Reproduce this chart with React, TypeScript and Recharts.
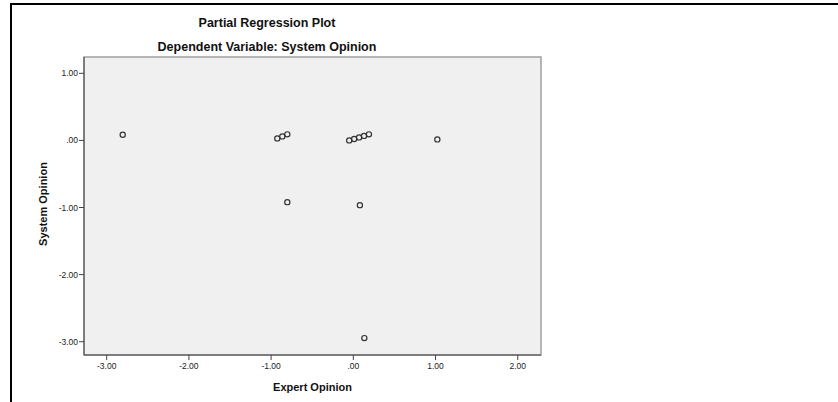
import React from "react";
import { ScatterChart, Scatter, XAxis, YAxis, ReferenceArea, Label } from "recharts";

// values
const expertOpinion = [
  -2.805, -0.925, -0.864, -0.803, -0.05, 0.01, 0.07, 0.13, 0.19, 1.022, -0.803, 0.08, 0.134,
];
const systemOpinion = [
  0.085, 0.03, 0.06, 0.09, 0.0, 0.022, 0.045, 0.067, 0.09, 0.015, -0.92, -0.965, -2.946,
];
const xTicks = [-3, -2, -1, 0, 1, 2];
const yTicks = [1, 0, -1, -2, -3];
const xDomain = [-3.276, 2.283];
const yDomain = [-3.198, 1.243];

const title = "Partial Regression Plot";
const subtitle = "Dependent Variable: System Opinion";
const xLabel = "Expert Opinion";
const yLabel = "System Opinion";

const FONT = "'Liberation Sans', Arial, sans-serif";

const points = expertOpinion.map((x, i) => ({ x, y: systemOpinion[i] }));

const fmt = (v: number) => (v === 0 ? ".00" : v.toFixed(2));

const HollowDot = (props: any) => (
  <circle cx={props.cx} cy={props.cy} r={2.6} fill="none" stroke="#333" strokeWidth={1.2} />
);

export default function App() {
  return (
    <div
      style={{
        position: "absolute",
        left: 0,
        top: 0,
        width: 838,
        height: 402,
        background: "#fff",
        fontFamily: FONT,
      }}
    >
      <div
        style={{
          position: "absolute",
          left: 10,
          top: 3,
          width: 828,
          height: 399,
          borderTop: "2px solid #000",
          borderLeft: "2px solid #000",
          boxSizing: "border-box",
        }}
      />
      <div
        style={{
          position: "absolute",
          left: 0,
          width: 534,
          top: 16,
          textAlign: "center",
          fontSize: 12.5,
          lineHeight: "15px",
          fontWeight: "bold",
          color: "#111",
        }}
      >
        {title}
      </div>
      <div
        style={{
          position: "absolute",
          left: 0,
          width: 534,
          top: 40,
          textAlign: "center",
          fontSize: 12.5,
          lineHeight: "15px",
          fontWeight: "bold",
          color: "#111",
        }}
      >
        {subtitle}
      </div>
      <div style={{ position: "absolute", left: 0, top: 0 }}>
        <ScatterChart
          width={838}
          height={402}
          margin={{ top: 57, left: 24, right: 297, bottom: 11 }}
        >
          <ReferenceArea
            x1={xDomain[0]}
            x2={xDomain[1]}
            y1={yDomain[0]}
            y2={yDomain[1]}
            fill="#f0f0f0"
            fillOpacity={1}
            stroke="#a0a0a0"
            strokeWidth={1.5}
          />
          <XAxis
            type="number"
            dataKey="x"
            domain={xDomain}
            ticks={xTicks}
            tickFormatter={fmt}
            height={36}
            tickSize={5}
            tickMargin={3}
            stroke="#444"
            tick={{ fontSize: 8.5, fill: "#222", fontFamily: FONT }}
            allowDataOverflow
          >
            <Label
              content={(p: any) => {
                const vb = p.viewBox;
                return (
                  <text
                    x={vb.x + vb.width / 2}
                    y={vb.y + 36}
                    textAnchor="middle"
                    fontSize={11}
                    fontWeight="bold"
                    fontFamily={FONT}
                    fill="#111"
                  >
                    {xLabel}
                  </text>
                );
              }}
            />
          </XAxis>
          <YAxis
            type="number"
            dataKey="y"
            domain={yDomain}
            ticks={yTicks}
            tickFormatter={fmt}
            width={60}
            tickSize={5}
            tickMargin={1}
            stroke="#444"
            tick={{ fontSize: 8.5, fill: "#222", fontFamily: FONT }}
            allowDataOverflow
          >
            <Label
              content={(p: any) => {
                const vb = p.viewBox;
                const cx = vb.x + 23;
                const cy = vb.y + vb.height / 2 - 2;
                return (
                  <text
                    x={cx}
                    y={cy}
                    transform={`rotate(-90, ${cx}, ${cy})`}
                    textAnchor="middle"
                    fontSize={11}
                    fontWeight="bold"
                    fontFamily={FONT}
                    fill="#111"
                  >
                    {yLabel}
                  </text>
                );
              }}
            />
          </YAxis>
          <Scatter data={points} shape={HollowDot} isAnimationActive={false} />
        </ScatterChart>
      </div>
    </div>
  );
}
